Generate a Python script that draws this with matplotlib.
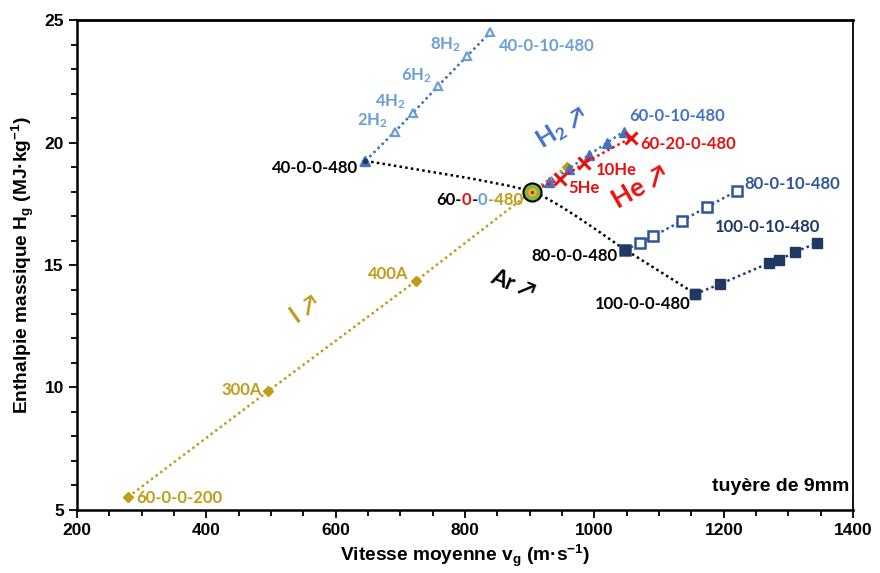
import numpy as np
import matplotlib
matplotlib.use('Agg')
import matplotlib.pyplot as plt
from matplotlib.path import Path
from matplotlib.patches import PathPatch
from matplotlib.ticker import MultipleLocator

plt.rcParams['mathtext.default'] = 'regular'
LBL = ['Lato', 'DejaVu Sans']
AX = ['Liberation Sans', 'DejaVu Sans']
NARROW = ['Liberation Sans Narrow', 'Liberation Sans', 'DejaVu Sans']

# ---- data ----
# current series 60-0-0-xxx (gold diamonds)
cur_x = [279, 496, 724, 903, 957]
cur_y = [5.53, 9.86, 14.35, 18.0, 19.0]
cur_lbl = ['60-0-0-200', '300A', '400A', '', '']

# argon series xx-0-0-480 (black dotted curve)
ar_x = [646, 903, 1048, 1156]
ar_y = [19.25, 18.0, 15.62, 13.82]
ar_lbl = ['40-0-0-480', '', '80-0-0-480', '100-0-0-480']

# H2 addition, 40 slpm Ar (light blue open triangles)
h40_x = [646, 691, 719, 758, 803, 839]
h40_y = [19.25, 20.43, 21.2, 22.3, 23.53, 24.5]
h40_lbl = ['', '2H$_2$', '4H$_2$', '6H$_2$', '8H$_2$', '40-0-10-480']

# H2 addition, 60 slpm Ar (blue filled triangles)
h60_x = [903, 930, 960, 991, 1019, 1045]
h60_y = [18.0, 18.39, 18.92, 19.49, 19.98, 20.45]

# He addition, 60 slpm Ar (red crosses)
he_x = [903, 946, 984, 1057]
he_y = [18.0, 18.5, 19.16, 20.2]

# H2 addition, 80 slpm Ar (open squares)
h80_x = [1048, 1071, 1091, 1135, 1174, 1220]
h80_y = [15.62, 15.9, 16.18, 16.8, 17.37, 18.02]

# H2 addition, 100 slpm Ar (filled squares)
h100_x = [1156, 1194, 1270, 1285, 1310, 1344]
h100_y = [13.82, 14.22, 15.08, 15.2, 15.53, 15.9]

GOLD = '#C29B17'
LBLUE = '#6A9FD8'
MBLUE = '#4472C4'
DBLUE = '#2F5597'
NAVY = '#1F3864'
RED = '#E81010'
DOT = (0, (1, 1.3))

fig = plt.figure(figsize=(8.8, 5.73), dpi=100)
ax = fig.add_axes([0.0875, 0.110, 0.882, 0.855])

# Ar smooth curve (light smoothing between the points)
pts = np.column_stack([ar_x, ar_y]).astype(float)
verts = [pts[0]]
codes = [Path.MOVETO]
for i in range(len(pts) - 1):
    p0 = pts[i - 1] if i > 0 else pts[i]
    p1, p2 = pts[i], pts[i + 1]
    p3 = pts[i + 2] if i + 2 < len(pts) else pts[i + 1]
    verts += [p1 + (p2 - p0) / 10, p2 - (p3 - p1) / 10, p2]
    codes += [Path.CURVE4] * 3
ax.add_patch(PathPatch(Path(verts, codes), fc='none', ec='black', lw=1.8,
                       ls=DOT, zorder=2))

ax.plot(cur_x, cur_y, ls=DOT, lw=1.8, color=GOLD, marker='D', ms=5,
        mec=GOLD, mfc=GOLD, zorder=3)
ax.plot(h40_x, h40_y, ls=DOT, lw=1.8, color='#3F6FA8', marker='^', ms=6,
        mec=LBLUE, mfc='white', mew=1.6, zorder=3)
ax.plot(h60_x, h60_y, ls=DOT, lw=1.8, color='#2F7F9F', marker='^', ms=7,
        mec=MBLUE, mfc=MBLUE, zorder=4)
ax.plot(he_x, he_y, ls=DOT, lw=1.8, color=RED, marker='x', ms=9,
        mew=2.2, zorder=5)
ax.plot(h80_x, h80_y, ls=DOT, lw=1.8, color=DBLUE, marker='s', ms=6.5,
        mec=DBLUE, mfc='white', mew=1.8, zorder=3)
ax.plot(h100_x, h100_y, ls=DOT, lw=1.8, color=NAVY, marker='s', ms=7.5,
        mec=NAVY, mfc=NAVY, zorder=3)
ax.plot(ar_x[2:], ar_y[2:], ls='none', marker='s', ms=7, mfc=NAVY, mec=NAVY, zorder=4)
ax.plot(ar_x[0], ar_y[0], ls='none', marker='^', ms=7, mfc=MBLUE, mec=MBLUE, zorder=4)
ax.plot(ar_x[0], ar_y[0], ls='none', marker='o', ms=3, mfc=NAVY, mec=NAVY, zorder=5)
# shared 60-0-0-480 point
ax.plot(ar_x[1], ar_y[1], ls='none', marker='o', ms=13, mfc='#8DB43A', mec='black',
        mew=1.5, zorder=6)
ax.plot(ar_x[1], ar_y[1], ls='none', marker='o', ms=6, mfc='#D9C23A', mec='none', zorder=7)
ax.plot(ar_x[1], ar_y[1], ls='none', marker='o', ms=2.5, mfc=RED, mec='none', zorder=8)

ax.set_xlim(200, 1400)
ax.set_ylim(5, 25)
ax.xaxis.set_major_locator(MultipleLocator(200))
ax.xaxis.set_minor_locator(MultipleLocator(50))
ax.yaxis.set_major_locator(MultipleLocator(5))
ax.yaxis.set_minor_locator(MultipleLocator(1))
ax.tick_params(which='both', direction='out', top=False, right=False, width=1.3)
ax.tick_params(which='major', length=6, labelsize=12.5)
ax.tick_params(which='minor', length=4)
for lab in ax.get_xticklabels() + ax.get_yticklabels():
    lab.set_fontweight('bold')
    lab.set_family(NARROW)
for s in ax.spines.values():
    s.set_linewidth(1.3)
ax.spines['left'].set_linewidth(1.8)
ax.spines['bottom'].set_linewidth(1.8)
ax.spines['top'].set_linewidth(2)

ax.set_xlabel('Vitesse moyenne v$_g$ (m·s$^{-1}$)', fontsize=13.8, fontweight='bold',
              family=AX, labelpad=3)
ax.set_ylabel('Enthalpie massique H$_g$ (MJ·kg$^{-1}$)', fontsize=13.8, fontweight='bold',
              family=AX, labelpad=6)

kw = dict(fontsize=12, fontweight='bold', family=LBL)
# point labels
ax.text(cur_x[0] + 12, cur_y[0] - 0.05, cur_lbl[0], color=GOLD, va='center', ha='left', **kw)
ax.text(cur_x[1] - 10, cur_y[1] + 0.05, cur_lbl[1], color=GOLD, va='center', ha='right', **kw)
ax.text(cur_x[2] - 12, cur_y[2] + 0.3, cur_lbl[2], color=GOLD, va='center', ha='right', **kw)
ax.text(ar_x[0] - 12, ar_y[0] - 0.3, ar_lbl[0], color='black', va='center', ha='right', **kw)
ax.text(ar_x[2] - 12, ar_y[2] - 0.25, ar_lbl[2], color='black', va='center', ha='right', **kw)
ax.text(ar_x[3] - 8, ar_y[3] - 0.4, ar_lbl[3], color='black', va='center', ha='right', **kw)
for i in range(1, 5):
    ax.text(h40_x[i] - 10, h40_y[i] + 0.45, h40_lbl[i], color=LBLUE, va='center',
            ha='right', **kw)
ax.text(h40_x[5] + 14, h40_y[5] - 0.55, h40_lbl[5], color=LBLUE, va='center', ha='left', **kw)
ax.text(h60_x[-1] + 9, h60_y[-1] + 0.65, '60-0-10-480', color=MBLUE, va='center',
        ha='left', **kw)
ax.text(he_x[-1] + 14, he_y[-1] - 0.25, '60-20-0-480', color=RED, va='center', ha='left', **kw)
ax.text(he_x[2] + 18, he_y[2] - 0.3, '10He', color=RED, va='center', ha='left', **kw)
ax.text(he_x[1] + 14, he_y[1] - 0.35, '5He', color=RED, va='center', ha='left', **kw)
ax.text(h80_x[-1] + 12, h80_y[-1] + 0.3, '80-0-10-480', color=DBLUE, va='center',
        ha='left', **kw)
ax.text(h100_x[-1] + 5, h100_y[-1] + 0.65, '100-0-10-480', color=NAVY, va='center',
        ha='right', **kw)

# multicoloured 60-0-0-480 label
parts = [('60-', 'black'), ('0', RED), ('-', 'black'), ('0', LBLUE), ('-480', GOLD)]
fig.canvas.draw()
r = fig.canvas.get_renderer()
widths = []
for s, c in parts:
    tt = ax.text(0, 0, s, **kw)
    widths.append(tt.get_window_extent(r).width)
    tt.remove()
x0d, y0d = ax.transData.transform((ar_x[1] - 14, ar_y[1] - 0.35))
xd = x0d - sum(widths)
inv = ax.transData.inverted()
for (s, c), w in zip(parts, widths):
    xx, yy = inv.transform((xd, y0d))
    ax.text(xx, yy, s, color=c, va='center', ha='left', **kw)
    xd += w

# direction annotations
big = dict(fontweight='bold', family=LBL, ha='center', va='center')
ax.text(949, 20.6, 'H$_2$ ↗', color=MBLUE, rotation=32, fontsize=18, **big)
ax.text(1070, 18.2, 'He ↗', color=RED, rotation=30, fontsize=19, **big)
ax.text(874, 14.2, 'Ar ↗', color='black', rotation=-22, fontsize=16, **big)
ax.text(553, 13.2, 'I ↗', color=GOLD, rotation=35, fontsize=17, **big)

ax.text(0.995, 0.03, 'tuyère de 9mm', transform=ax.transAxes, ha='right', va='bottom',
        fontsize=14, fontweight='bold', family=NARROW)

fig.savefig('out.png', dpi=100)
